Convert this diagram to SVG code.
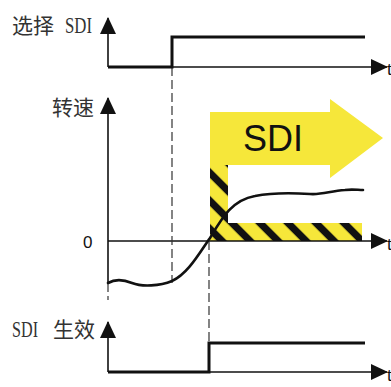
<svg xmlns="http://www.w3.org/2000/svg" width="391" height="387" viewBox="0 0 391 387">
  <style>
    .lbl { font-family: "Liberation Serif", "Noto Sans CJK SC", serif; font-size: 21px; fill: #333; }
    .lat { font-size: 23px; }
    .t { font-family: "Liberation Sans", Arial, sans-serif; font-size: 17px; fill: #111; }
    .axis { stroke: #111; stroke-width: 1.6; fill: none; }
    .sig { stroke: #111; stroke-width: 3; fill: none; }
    .dash { stroke: #333; stroke-width: 1.2; stroke-dasharray: 9 4; fill: none; }
    .curve { stroke: #111; stroke-width: 2.6; fill: none; stroke-linecap: round; }
  </style>
  <defs>
    <marker id="ah" viewBox="0 0 17 16" refX="16" refY="8" markerWidth="17" markerHeight="16" markerUnits="userSpaceOnUse" orient="auto">
      <path d="M0,0 L17,8 L0,16 Z" fill="#111"/>
    </marker>
    <pattern id="hatch" patternUnits="userSpaceOnUse" x="0" y="0" width="19.8" height="19.8" patternTransform="rotate(-45)">
      <rect x="0" y="0" width="19.8" height="19.8" fill="#f6e73a"/>
      <rect x="2.8" y="0" width="7.2" height="19.8" fill="#111"/>
    </pattern>
  </defs>

  <rect width="391" height="387" fill="#fff"/>

  <!-- SDI region (yellow arrow + hatched L) -->
  <g id="sdi-zone">
    <path d="M210,112 H330 V99 L383,138 L330,178 V165 H210 Z" fill="#f6e73a"/>
    <path d="M210,165 H228 V223 H362 V241 H210 Z" fill="url(#hatch)"/>
    <text x="243" y="151" font-family="Liberation Sans, Arial, sans-serif" font-size="36" fill="#111">SDI</text>
  </g>

  <g id="connectors">
    <!-- top chart axes -->
    <line class="axis" x1="108" y1="67" x2="108" y2="18" marker-end="url(#ah)"/>
    <line class="axis" x1="108" y1="67" x2="387" y2="67" marker-end="url(#ah)"/>
    <!-- speed chart axes -->
    <line class="axis" x1="108" y1="283" x2="108" y2="98" marker-end="url(#ah)"/>
    <line class="dash" x1="108" y1="283" x2="108" y2="300"/>
    <line class="axis" x1="108" y1="241" x2="387" y2="241" marker-end="url(#ah)"/>
    <!-- bottom chart axes -->
    <line class="axis" x1="108" y1="372" x2="108" y2="322" marker-end="url(#ah)"/>
    <line class="axis" x1="108" y1="372" x2="387" y2="372" marker-end="url(#ah)"/>
    <!-- dashed guides -->
    <line class="dash" x1="172" y1="67" x2="172" y2="283"/>
    <line class="dash" x1="209" y1="241" x2="209" y2="343"/>
  </g>

  <g id="select-sdi">
    <text class="lbl" x="12" y="33">选择<tspan class="lat" x="65" textLength="27" lengthAdjust="spacingAndGlyphs">SDI</tspan></text>
    <path class="sig" d="M108,67 H172 V37 H365"/>
    <text class="t" x="387" y="75">t</text>
  </g>

  <g id="speed">
    <text class="lbl" x="52" y="115">转速</text>
    <text class="t" x="83" y="248" font-size="18" fill="#222">0</text>
    <path class="curve" d="M108,283 C115,279 122,279 132,283 C142,287 160,286 172,281 C188,274 200,252 210,238 C222,218 232,200 255,196 C275,192 295,193 310,194 C322,195 330,191 345,190 C352,189 358,190 363,190"/>
    <text class="t" x="387" y="250">t</text>
  </g>

  <g id="sdi-active">
    <text class="lbl" x="12" y="337"><tspan class="lat" textLength="26" lengthAdjust="spacingAndGlyphs">SDI</tspan><tspan x="53">生效</tspan></text>
    <path class="sig" d="M108,372 H209 V343 H365"/>
    <text class="t" x="387" y="381">t</text>
  </g>
</svg>
